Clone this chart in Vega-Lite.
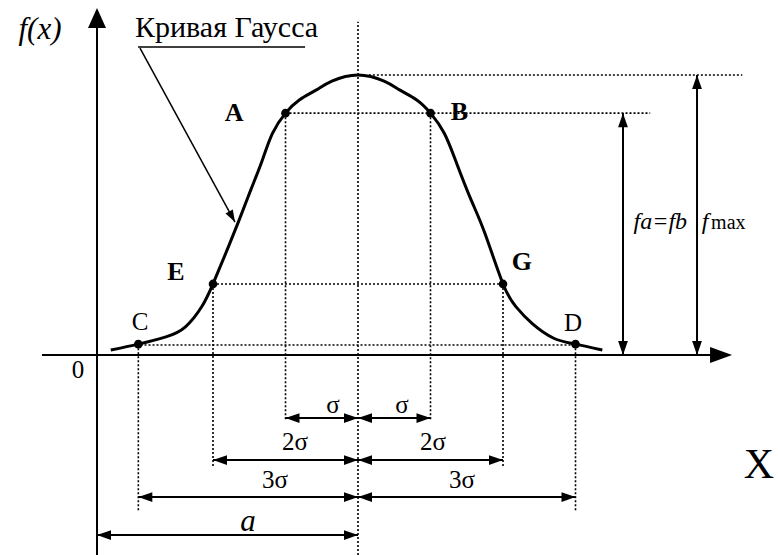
{
  "$schema": "https://vega.github.io/schema/vega-lite/v6.json",
  "width": 778,
  "height": 555,
  "padding": 0,
  "autosize": "none",
  "background": "white",
  "config": {"view": {"stroke": null}},
  "datasets": {
    "curve": [
      {"x": 0.19, "y": 0.018}, {"x": 0.57, "y": 0.039}, {"x": 0.95, "y": 0.065},
      {"x": 1.22, "y": 0.101}, {"x": 1.45, "y": 0.175}, {"x": 1.6, "y": 0.254},
      {"x": 1.775, "y": 0.363}, {"x": 1.96, "y": 0.482}, {"x": 2.12, "y": 0.589},
      {"x": 2.28, "y": 0.696}, {"x": 2.42, "y": 0.792}, {"x": 2.6, "y": 0.864},
      {"x": 2.79, "y": 0.911}, {"x": 3.02, "y": 0.946}, {"x": 3.24, "y": 0.978},
      {"x": 3.6, "y": 1.0}, {"x": 3.96, "y": 0.978}, {"x": 4.18, "y": 0.946},
      {"x": 4.41, "y": 0.911},
      {"x": 4.6, "y": 0.864}, {"x": 4.79, "y": 0.792}, {"x": 4.96, "y": 0.685},
      {"x": 5.16, "y": 0.554}, {"x": 5.35, "y": 0.435}, {"x": 5.6, "y": 0.254},
      {"x": 5.78, "y": 0.172}, {"x": 6.0, "y": 0.113}, {"x": 6.3, "y": 0.06},
      {"x": 6.6, "y": 0.039}, {"x": 6.97, "y": 0.018}
    ],
    "dots": [
      {"x": 2.6, "y": 0.864, "name": "A"}, {"x": 4.6, "y": 0.864, "name": "B"},
      {"x": 1.6, "y": 0.254, "name": "E"}, {"x": 5.6, "y": 0.254, "name": "G"},
      {"x": 0.57, "y": 0.039, "name": "C"}, {"x": 6.6, "y": 0.039, "name": "D"}
    ],
    "dotted": [
      {"x": 3.6, "y": -0.714, "x2": 3.6, "y2": 1.19},
      {"x": 3.75, "y": 1.0, "x2": 8.9, "y2": 1.0},
      {"x": 2.6, "y": 0.864, "x2": 7.63, "y2": 0.864},
      {"x": 1.6, "y": 0.254, "x2": 5.6, "y2": 0.254},
      {"x": 0.6, "y": 0.036, "x2": 6.6, "y2": 0.036},
      {"x": 2.6, "y": 0.864, "x2": 2.6, "y2": -0.232},
      {"x": 4.6, "y": 0.864, "x2": 4.6, "y2": -0.232},
      {"x": 1.6, "y": 0.254, "x2": 1.6, "y2": -0.4},
      {"x": 5.6, "y": 0.254, "x2": 5.6, "y2": -0.4},
      {"x": 0.57, "y": 0.039, "x2": 0.57, "y2": -0.554},
      {"x": 6.6, "y": 0.039, "x2": 6.6, "y2": -0.554}
    ],
    "solid": [
      {"x": 0, "y": -0.714, "x2": 0, "y2": 1.2},
      {"x": -0.759, "y": 0, "x2": 8.6, "y2": 0},
      {"x": 2.6, "y": -0.225, "x2": 4.6, "y2": -0.225},
      {"x": 1.6, "y": -0.375, "x2": 5.6, "y2": -0.375},
      {"x": 0.57, "y": -0.507, "x2": 6.6, "y2": -0.507},
      {"x": 0, "y": -0.643, "x2": 3.6, "y2": -0.643},
      {"x": 7.255, "y": 0, "x2": 7.255, "y2": 0.864},
      {"x": 8.276, "y": 0, "x2": 8.276, "y2": 1.0}
    ],
    "thin": [
      {"x": 0.593, "y": 1.096, "x2": 1.903, "y2": 0.475},
      {"x": 0.566, "y": 1.1, "x2": 2.87, "y2": 1.1}
    ],
    "heads": [
      {"x": 7.255, "y": 0.864, "dir": "up"}, {"x": 7.255, "y": 0, "dir": "down"},
      {"x": 8.276, "y": 1.0, "dir": "up"}, {"x": 8.276, "y": 0, "dir": "down"},
      {"x": 2.6, "y": -0.225, "dir": "left"}, {"x": 3.6, "y": -0.225, "dir": "right"},
      {"x": 3.6, "y": -0.225, "dir": "left"}, {"x": 4.6, "y": -0.225, "dir": "right"},
      {"x": 1.6, "y": -0.375, "dir": "left"}, {"x": 3.6, "y": -0.375, "dir": "right"},
      {"x": 3.6, "y": -0.375, "dir": "left"}, {"x": 5.6, "y": -0.375, "dir": "right"},
      {"x": 0.57, "y": -0.507, "dir": "left"}, {"x": 3.6, "y": -0.507, "dir": "right"},
      {"x": 3.6, "y": -0.507, "dir": "left"}, {"x": 6.6, "y": -0.507, "dir": "right"},
      {"x": 0, "y": -0.643, "dir": "left"}, {"x": 3.6, "y": -0.643, "dir": "right"}
    ],
    "axisHeads": [
      {"x": 0, "y": 1.239, "dir": "aup"}, {"x": 8.759, "y": 0, "dir": "aright"}
    ],
    "leaderHead": [{"x": 1.903, "y": 0.475, "dir": "right"}],
    "boldLabels": [
      {"x": 1.89, "y": 0.864, "t": "A"}, {"x": 5.0, "y": 0.868, "t": "B"},
      {"x": 1.09, "y": 0.296, "t": "E"}, {"x": 5.86, "y": 0.332, "t": "G"}
    ],
    "plainLabels": [
      {"x": 0.593, "y": 0.118, "t": "C"}, {"x": 6.566, "y": 0.114, "t": "D"},
      {"x": 3.255, "y": -0.179, "t": "σ"}, {"x": 4.207, "y": -0.179, "t": "σ"},
      {"x": 2.73, "y": -0.311, "t": "2σ"}, {"x": 4.634, "y": -0.311, "t": "2σ"},
      {"x": 2.455, "y": -0.446, "t": "3σ"}, {"x": 5.034, "y": -0.446, "t": "3σ"},
      {"x": -0.262, "y": -0.054, "t": "0"}
    ],
    "italicLabels": [
      {"x": 2.083, "y": -0.596, "t": "a"},
      {"x": -0.786, "y": 1.161, "t": "f(x)"}
    ],
    "fLabels": [
      {"x": 7.77, "y": 0.45, "t": "fa=fb"},
      {"x": 8.386, "y": 0.45, "t": "f"}
    ],
    "maxLabel": [{"x": 8.47, "y": 0.45, "t": "max"}],
    "title": [{"x": 0.524, "y": 1.136, "t": "Кривая Гаусса"}],
    "xLabel": [{"x": 9.13, "y": -0.393, "t": "X"}]
  },
  "encoding": {
    "x": {"field": "x", "type": "quantitative", "scale": {"domain": [-1.338, 9.393], "nice": false, "zero": false}, "axis": null},
    "y": {"field": "y", "type": "quantitative", "scale": {"domain": [-0.714, 1.268], "nice": false, "zero": false}, "axis": null}
  },
  "layer": [
    {"data": {"name": "dotted"}, "mark": {"type": "rule", "color": "black", "strokeWidth": 1.6, "strokeDash": [2, 2]},
     "encoding": {"x2": {"field": "x2"}, "y2": {"field": "y2"}}},
    {"data": {"name": "solid"}, "mark": {"type": "rule", "color": "black", "strokeWidth": 2},
     "encoding": {"x2": {"field": "x2"}, "y2": {"field": "y2"}}},
    {"data": {"name": "thin"}, "mark": {"type": "rule", "color": "black", "strokeWidth": 1.5},
     "encoding": {"x2": {"field": "x2"}, "y2": {"field": "y2"}}},
    {"data": {"name": "curve"}, "mark": {"type": "line", "color": "black", "strokeWidth": 3, "interpolate": "natural"},
     "encoding": {}},
    {"data": {"name": "dots"}, "mark": {"type": "point", "filled": true, "color": "black", "opacity": 1, "size": 75},
     "encoding": {}},
    {"data": {"name": "heads"}, "mark": {"type": "point", "filled": true, "color": "black", "opacity": 1, "size": 196, "strokeWidth": 0},
     "encoding": {"shape": {"field": "dir", "type": "nominal", "legend": null,
       "scale": {"domain": ["right", "left", "up", "down", "aup", "aright"],
                 "range": ["M0,0L-2,-0.7L-2,0.7Z", "M0,0L2,-0.7L2,0.7Z", "M0,0L-0.7,2L0.7,2Z", "M0,0L-0.7,-2L0.7,-2Z", "M0,0L-0.9,2L0.9,2Z", "M0,0L-2.2,-0.8L-2.2,0.8Z"]}}}},
    {"data": {"name": "axisHeads"}, "mark": {"type": "point", "filled": true, "color": "black", "opacity": 1, "size": 400, "strokeWidth": 0},
     "encoding": {"shape": {"field": "dir", "type": "nominal", "legend": null}}},
    {"data": {"name": "leaderHead"}, "mark": {"type": "point", "filled": true, "color": "black", "opacity": 1, "size": 144, "strokeWidth": 0, "angle": 61},
     "encoding": {"shape": {"field": "dir", "type": "nominal", "legend": null}}},
    {"data": {"name": "boldLabels"}, "mark": {"type": "text", "font": "Liberation Serif", "fontWeight": "bold", "fontSize": 26, "color": "black", "baseline": "middle", "align": "center"},
     "encoding": {"text": {"field": "t"}}},
    {"data": {"name": "plainLabels"}, "mark": {"type": "text", "font": "Liberation Serif", "fontSize": 25, "color": "black", "baseline": "middle", "align": "center"},
     "encoding": {"text": {"field": "t"}}},
    {"data": {"name": "italicLabels"}, "mark": {"type": "text", "font": "Liberation Serif", "fontStyle": "italic", "fontSize": 31, "color": "black", "baseline": "middle", "align": "center"},
     "encoding": {"text": {"field": "t"}}},
    {"data": {"name": "fLabels"}, "mark": {"type": "text", "font": "Liberation Serif", "fontStyle": "italic", "fontSize": 24, "color": "black", "baseline": "alphabetic", "align": "center"},
     "encoding": {"text": {"field": "t"}}},
    {"data": {"name": "maxLabel"}, "mark": {"type": "text", "font": "Liberation Serif", "fontSize": 20, "color": "black", "baseline": "alphabetic", "align": "left"},
     "encoding": {"text": {"field": "t"}}},
    {"data": {"name": "title"}, "mark": {"type": "text", "font": "Liberation Serif", "fontSize": 30, "color": "black", "baseline": "alphabetic", "align": "left"},
     "encoding": {"text": {"field": "t"}}},
    {"data": {"name": "xLabel"}, "mark": {"type": "text", "font": "Liberation Serif", "fontSize": 42, "color": "black", "baseline": "middle", "align": "center"},
     "encoding": {"text": {"field": "t"}}}
  ]
}
